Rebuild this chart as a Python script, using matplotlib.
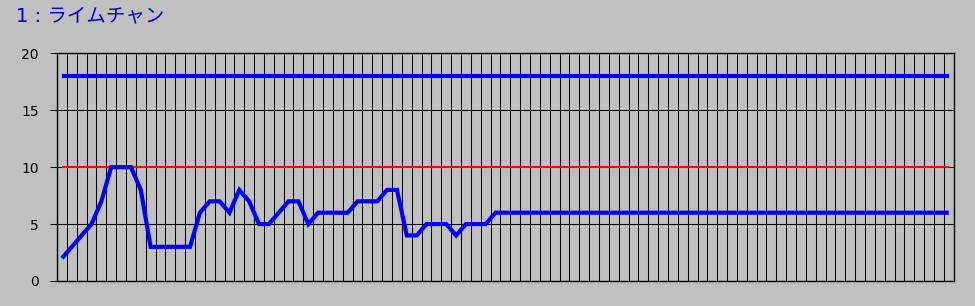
import matplotlib
matplotlib.use("Agg")
import matplotlib.pyplot as plt
import numpy as np

plt.rcParams['font.family'] = ['Noto Sans CJK JP', 'DejaVu Sans']

title = "1 : ライムチャン"
upper = [18] * 91
threshold = [10] * 91
values = [2, 3, 4, 5, 7, 10, 10, 10, 8, 3, 3, 3, 3, 3, 6, 7, 7, 6, 8, 7,
          5, 5, 6, 7, 7, 5, 6, 6, 6, 6, 7, 7, 7, 8, 8, 4, 4, 5, 5, 5,
          4, 5, 5, 5] + [6] * 47
yticks = [0, 5, 10, 15, 20]

bg = '#C0C0C0'
fig = plt.figure(figsize=(9.75, 3.06), dpi=100, facecolor=bg)
ax = fig.add_axes([57/975, 1-281/306, (953.7-57)/975, (281-53.3)/306])
ax.set_facecolor(bg)

x = np.arange(len(values))
ax.set_xlim(-0.5, len(values) - 0.5)
ax.set_ylim(0, 20)

# grid
ax.set_xticks(np.arange(-0.5, len(values), 1), minor=True)
ax.set_xticks([])
ax.grid(True, which='minor', axis='x', color='black', linewidth=0.75)
ax.set_yticks(yticks)
ax.grid(True, which='major', axis='y', color='black', linewidth=0.75)
ax.tick_params(axis='x', which='both', length=0)
ax.tick_params(axis='y', which='major', length=5, width=0.75, color='black',
               labelsize=10, pad=8, labelcolor='black')
for lbl in ax.get_yticklabels():
    lbl.set_family('DejaVu Sans')
ax.set_axisbelow(True)
for s in ax.spines.values():
    s.set_color('black')
    s.set_linewidth(1.0)

ax.plot(x, threshold, color='#FF0000', linewidth=1.5, solid_capstyle='butt')
ax.plot(x, upper, color='#0000FF', linewidth=3.0, solid_capstyle='butt')
ax.plot(x, values, color='#0000FF', linewidth=3.0, solid_capstyle='butt',
        solid_joinstyle='miter')

fig.text(16/975, 1-16/306, title, color='#0000C8', fontsize=14,
         family=['DejaVu Sans', 'Noto Sans CJK JP'],
         ha='left', va='center')

fig.savefig('out.png', dpi=100, facecolor=bg)
